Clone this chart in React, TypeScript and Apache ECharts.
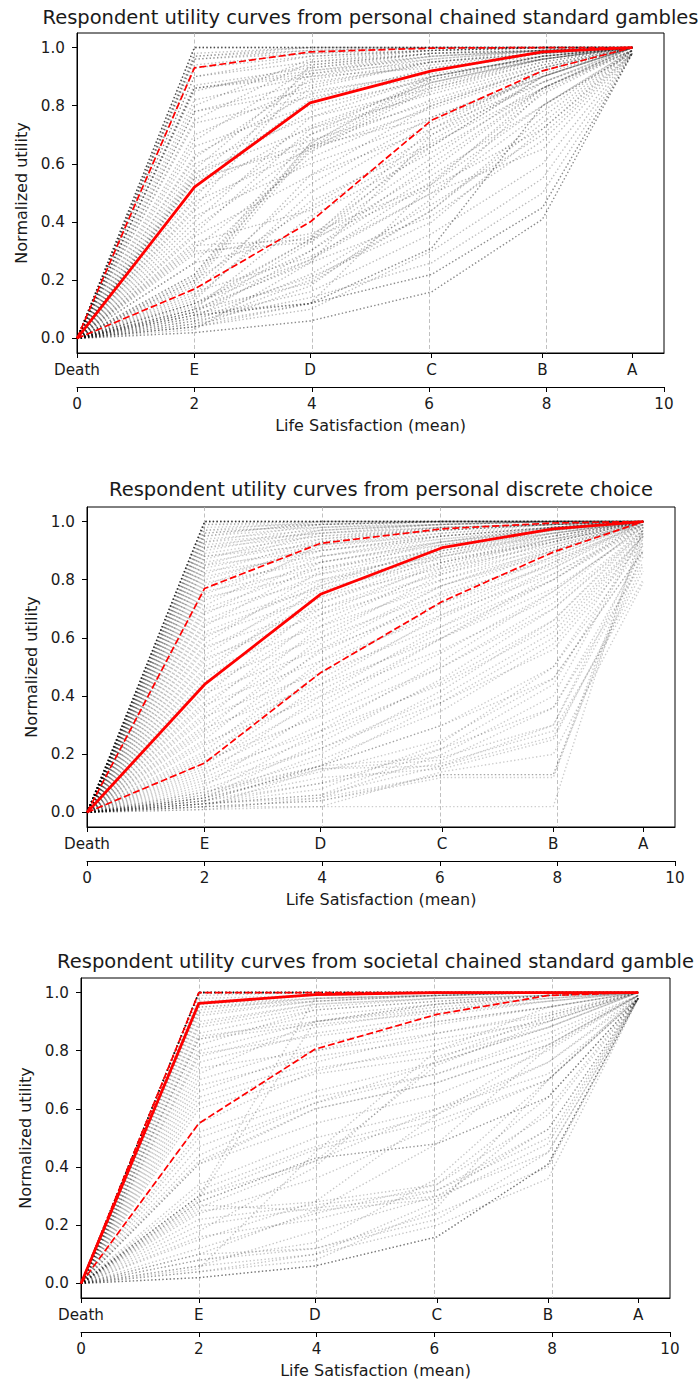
import React, { useEffect, useRef } from "react";
import * as echarts from "echarts";

// ---------- data ----------
const stateLabels = ["Death", "E", "D", "C", "B", "A"];
// mean life satisfaction of each state (x position of the state)
const statePositions = [0, 2.0, 3.97, 6.04, 7.93, 9.46];
const utilityTicks = [0, 0.2, 0.4, 0.6, 0.8, 1.0];

const panelTitles = [
  "Respondent utility curves from personal chained standard gambles",
  "Respondent utility curves from personal discrete choice",
  "Respondent utility curves from societal chained standard gamble",
];

// respondent utilities at [E, D, C, B, A]; Death is always 0
const personalCsgCurves = [
  [1.0, 1.0, 1.0, 1.0, 1.0], [1.0, 1.0, 1.0, 1.0, 1.0], [1.0, 1.0, 1.0, 1.0, 1.0],
  [1.0, 1.0, 1.0, 1.0, 1.0], [0.97, 0.99, 1.0, 1.0, 1.0], [0.96, 0.99, 1.0, 1.0, 1.0],
  [0.96, 0.98, 0.99, 1.0, 1.0], [0.93, 0.97, 0.99, 1.0, 1.0], [0.9, 0.95, 0.98, 0.99, 1.0],
  [0.87, 0.93, 0.97, 0.99, 1.0], [0.86, 0.91, 0.95, 0.98, 1.0], [0.86, 0.9, 0.93, 0.97, 1.0],
  [0.82, 0.9, 0.96, 0.99, 1.0], [0.78, 0.88, 0.94, 0.98, 1.0], [0.78, 0.85, 0.91, 0.96, 1.0],
  [0.74, 0.83, 0.9, 0.97, 1.0], [0.7, 0.87, 0.95, 0.98, 1.0], [0.66, 0.8, 0.89, 0.96, 1.0],
  [0.63, 0.84, 0.92, 0.98, 1.0], [0.6, 0.76, 0.86, 0.95, 1.0], [0.57, 0.72, 0.84, 0.94, 1.0],
  [0.55, 0.78, 0.9, 0.97, 1.0], [0.54, 0.68, 0.81, 0.93, 1.0], [0.5, 0.73, 0.88, 0.96, 1.0],
  [0.47, 0.65, 0.79, 0.92, 1.0], [0.44, 0.7, 0.85, 0.95, 1.0], [0.42, 0.6, 0.75, 0.9, 1.0],
  [0.38, 0.66, 0.82, 0.94, 1.0], [0.35, 0.56, 0.72, 0.88, 1.0], [0.33, 0.44, 0.66, 0.9, 1.0],
  [0.31, 0.62, 0.8, 0.93, 1.0], [0.29, 0.36, 0.53, 0.8, 0.99], [0.26, 0.64, 0.86, 0.96, 1.0],
  [0.22, 0.67, 0.89, 0.97, 1.0], [0.21, 0.66, 0.88, 0.96, 1.0], [0.2, 0.45, 0.7, 0.88, 0.99],
  [0.18, 0.53, 0.76, 0.91, 1.0], [0.16, 0.28, 0.5, 0.78, 0.99], [0.14, 0.47, 0.67, 0.86, 1.0],
  [0.12, 0.3, 0.6, 0.86, 0.99], [0.12, 0.27, 0.54, 0.84, 0.99], [0.11, 0.34, 0.72, 0.92, 1.0],
  [0.1, 0.19, 0.44, 0.76, 0.99], [0.09, 0.27, 0.5, 0.65, 0.98], [0.09, 0.12, 0.31, 0.8, 0.98],
  [0.08, 0.21, 0.4, 0.72, 0.98], [0.08, 0.12, 0.53, 0.86, 0.99], [0.07, 0.16, 0.36, 0.6, 0.98],
  [0.06, 0.22, 0.46, 0.7, 0.98], [0.05, 0.12, 0.22, 0.45, 0.98], [0.04, 0.1, 0.3, 0.55, 0.98],
  [0.04, 0.18, 0.48, 0.85, 0.99], [0.02, 0.06, 0.16, 0.41, 0.98], [0.02, 0.06, 0.16, 0.41, 0.98],
  [0.03, 0.26, 0.7, 0.92, 1.0], [0.09, 0.33, 0.68, 0.9, 1.0], [0.2, 0.67, 0.9, 0.97, 1.0],
  [0.08, 0.12, 0.31, 0.8, 0.98], [0.55, 0.66, 0.76, 0.9, 1.0], [0.86, 0.92, 0.96, 0.99, 1.0],
  [0.32, 0.34, 0.62, 0.88, 1.0], [0.3, 0.33, 0.58, 0.86, 1.0], [0.26, 0.35, 0.66, 0.9, 1.0],
  [0.45, 0.91, 0.97, 0.99, 1.0], [0.48, 0.94, 0.98, 1.0, 1.0], [0.58, 0.92, 0.97, 0.99, 1.0],
  [0.62, 0.89, 0.95, 0.98, 1.0], [0.68, 0.93, 0.98, 0.99, 1.0], [0.75, 0.95, 0.99, 1.0, 1.0],
  [0.8, 0.96, 0.99, 1.0, 1.0], [0.85, 0.94, 0.98, 0.99, 1.0], [0.9, 0.97, 0.99, 1.0, 1.0],
  [0.94, 0.98, 1.0, 1.0, 1.0], [0.97, 1.0, 1.0, 1.0, 1.0], [0.98, 1.0, 1.0, 1.0, 1.0],
  [0.19, 0.65, 0.87, 0.96, 1.0], [0.22, 0.7, 0.9, 0.97, 1.0], [0.15, 0.56, 0.8, 0.93, 1.0],
  [0.13, 0.5, 0.74, 0.9, 1.0], [0.1, 0.42, 0.64, 0.86, 1.0], [0.07, 0.3, 0.56, 0.8, 0.99],
  [0.05, 0.2, 0.44, 0.74, 0.99], [0.06, 0.14, 0.26, 0.5, 0.98], [0.04, 0.12, 0.22, 0.45, 0.98],
  [0.36, 0.72, 0.88, 0.96, 1.0], [0.4, 0.76, 0.9, 0.97, 1.0], [0.52, 0.82, 0.93, 0.98, 1.0],
  [0.56, 0.86, 0.95, 0.99, 1.0], [0.12, 0.34, 0.52, 0.72, 0.99], [0.1, 0.26, 0.42, 0.68, 0.98],
];
const personalCsgMedian = [0, 0.52, 0.81, 0.92, 0.985, 1.0];
const personalCsgUpper = [0, 0.93, 0.985, 0.998, 1.0, 1.0];
const personalCsgLower = [0, 0.17, 0.4, 0.75, 0.92, 1.0];

const personalDceCurves = [
  [1.0, 1.0, 1.0, 1.0, 1.0], [1.0, 1.0, 1.0, 1.0, 1.0], [1.0, 1.0, 1.0, 1.0, 1.0],
  [1.0, 1.0, 1.0, 1.0, 1.0], [1.0, 1.0, 1.0, 1.0, 1.0], [0.99, 1.0, 1.0, 1.0, 1.0],
  [0.98, 0.99, 1.0, 1.0, 1.0], [0.97, 1.0, 1.0, 1.0, 1.0], [0.96, 0.99, 1.0, 1.0, 1.0],
  [0.95, 0.98, 0.99, 1.0, 1.0], [0.94, 0.97, 0.99, 1.0, 1.0], [0.93, 0.99, 1.0, 1.0, 1.0],
  [0.92, 0.96, 0.98, 0.99, 1.0], [0.9, 0.97, 0.99, 1.0, 1.0], [0.89, 0.95, 0.98, 0.99, 1.0],
  [0.88, 0.94, 0.97, 0.99, 1.0], [0.86, 0.93, 0.97, 0.99, 1.0], [0.85, 0.96, 0.99, 1.0, 1.0],
  [0.84, 0.92, 0.96, 0.98, 1.0], [0.82, 0.94, 0.98, 0.99, 1.0], [0.81, 0.9, 0.95, 0.98, 1.0],
  [0.8, 0.91, 0.96, 0.99, 1.0], [0.78, 0.93, 0.98, 0.99, 1.0], [0.77, 0.88, 0.94, 0.98, 1.0],
  [0.75, 0.9, 0.95, 0.98, 1.0], [0.73, 0.86, 0.93, 0.97, 1.0], [0.71, 0.92, 0.97, 0.99, 1.0],
  [0.7, 0.84, 0.92, 0.97, 1.0], [0.68, 0.88, 0.95, 0.98, 1.0], [0.66, 0.82, 0.91, 0.96, 1.0],
  [0.64, 0.86, 0.93, 0.98, 1.0], [0.62, 0.78, 0.89, 0.95, 1.0], [0.6, 0.8, 0.9, 0.96, 1.0],
  [0.58, 0.83, 0.93, 0.98, 1.0], [0.56, 0.76, 0.88, 0.95, 1.0], [0.54, 0.79, 0.91, 0.97, 1.0],
  [0.52, 0.72, 0.86, 0.94, 1.0], [0.5, 0.74, 0.89, 0.96, 1.0], [0.48, 0.78, 0.92, 0.98, 1.0],
  [0.46, 0.7, 0.85, 0.94, 1.0], [0.44, 0.75, 0.9, 0.97, 1.0], [0.42, 0.66, 0.83, 0.93, 1.0],
  [0.4, 0.72, 0.88, 0.96, 1.0], [0.38, 0.62, 0.8, 0.92, 1.0], [0.36, 0.68, 0.86, 0.95, 1.0],
  [0.34, 0.58, 0.78, 0.9, 1.0], [0.32, 0.64, 0.84, 0.94, 1.0], [0.3, 0.55, 0.74, 0.88, 1.0],
  [0.28, 0.6, 0.82, 0.93, 1.0], [0.27, 0.5, 0.7, 0.86, 0.99], [0.25, 0.56, 0.78, 0.91, 1.0],
  [0.23, 0.46, 0.67, 0.84, 0.99], [0.21, 0.52, 0.76, 0.9, 1.0], [0.2, 0.42, 0.62, 0.8, 0.98],
  [0.19, 0.48, 0.72, 0.88, 1.0], [0.17, 0.38, 0.6, 0.8, 0.99], [0.16, 0.44, 0.68, 0.86, 1.0],
  [0.15, 0.34, 0.55, 0.76, 0.98], [0.13, 0.4, 0.64, 0.84, 1.0], [0.12, 0.3, 0.5, 0.72, 0.97],
  [0.11, 0.26, 0.45, 0.66, 0.96], [0.09, 0.36, 0.6, 0.82, 0.99], [0.08, 0.22, 0.4, 0.62, 0.95],
  [0.07, 0.18, 0.35, 0.58, 0.94], [0.06, 0.28, 0.52, 0.76, 0.98], [0.06, 0.16, 0.3, 0.5, 0.92],
  [0.05, 0.14, 0.25, 0.46, 0.9], [0.05, 0.24, 0.46, 0.7, 0.97], [0.04, 0.16, 0.19, 0.3, 0.88],
  [0.04, 0.12, 0.15, 0.25, 0.85], [0.03, 0.05, 0.13, 0.13, 0.95], [0.03, 0.1, 0.17, 0.28, 0.8],
  [0.02, 0.02, 0.02, 0.02, 0.98], [0.02, 0.04, 0.12, 0.12, 0.93], [0.02, 0.15, 0.18, 0.36, 0.9],
  [0.01, 0.02, 0.14, 0.2, 0.79], [0.01, 0.05, 0.2, 0.4, 0.96], [0.03, 0.08, 0.24, 0.5, 0.97],
  [0.04, 0.16, 0.38, 0.6, 0.95], [0.03, 0.06, 0.22, 0.44, 0.96], [0.05, 0.2, 0.42, 0.66, 0.97],
  [0.96, 0.99, 1.0, 1.0, 1.0], [0.91, 0.98, 1.0, 1.0, 1.0], [0.87, 0.97, 0.99, 1.0, 1.0],
  [1.0, 1.0, 1.0, 1.0, 1.0], [1.0, 1.0, 1.0, 1.0, 1.0], [0.99, 0.99, 1.0, 1.0, 1.0],
  [0.97, 0.98, 0.99, 1.0, 1.0], [0.95, 1.0, 1.0, 1.0, 1.0], [0.93, 0.96, 0.98, 0.99, 1.0],
  [0.91, 0.95, 0.97, 0.99, 1.0], [0.88, 0.92, 0.95, 0.98, 1.0], [0.85, 0.9, 0.94, 0.97, 0.99],
  [0.83, 0.88, 0.93, 0.97, 1.0], [0.79, 0.86, 0.92, 0.96, 1.0], [0.76, 0.84, 0.9, 0.95, 1.0],
  [0.74, 0.82, 0.88, 0.94, 0.98], [0.69, 0.8, 0.87, 0.93, 1.0], [0.65, 0.77, 0.86, 0.93, 1.0],
  [0.61, 0.74, 0.84, 0.92, 0.99], [0.57, 0.7, 0.82, 0.91, 1.0], [0.53, 0.68, 0.8, 0.9, 1.0],
  [0.49, 0.64, 0.78, 0.89, 1.0], [0.45, 0.6, 0.75, 0.87, 0.99], [0.41, 0.56, 0.72, 0.85, 1.0],
  [0.37, 0.52, 0.68, 0.82, 0.98], [0.33, 0.48, 0.64, 0.8, 1.0], [0.29, 0.44, 0.6, 0.77, 0.97],
  [0.24, 0.4, 0.56, 0.74, 0.99], [0.18, 0.33, 0.5, 0.7, 0.96], [0.14, 0.28, 0.44, 0.64, 0.95],
  [0.1, 0.22, 0.38, 0.56, 0.93], [0.07, 0.16, 0.3, 0.46, 0.9], [0.04, 0.1, 0.22, 0.36, 0.86],
  [0.03, 0.06, 0.16, 0.26, 0.83], [0.02, 0.04, 0.13, 0.13, 0.9], [0.05, 0.15, 0.16, 0.3, 0.92],
];
const personalDceMedian = [0, 0.44, 0.75, 0.91, 0.975, 1.0];
const personalDceUpper = [0, 0.77, 0.925, 0.975, 0.995, 1.0];
const personalDceLower = [0, 0.17, 0.48, 0.725, 0.895, 1.0];

const societalCsgCurves = [
  [1.0, 1.0, 1.0, 1.0, 1.0], [1.0, 1.0, 1.0, 1.0, 1.0], [1.0, 1.0, 1.0, 1.0, 1.0],
  [1.0, 1.0, 1.0, 1.0, 1.0], [1.0, 1.0, 1.0, 1.0, 1.0], [1.0, 1.0, 1.0, 1.0, 1.0],
  [1.0, 1.0, 1.0, 1.0, 1.0], [1.0, 1.0, 1.0, 1.0, 1.0], [1.0, 1.0, 1.0, 1.0, 1.0],
  [1.0, 1.0, 1.0, 1.0, 1.0], [1.0, 1.0, 1.0, 1.0, 1.0], [1.0, 1.0, 1.0, 1.0, 1.0],
  [0.99, 1.0, 1.0, 1.0, 1.0], [0.98, 0.99, 1.0, 1.0, 1.0], [0.97, 0.99, 1.0, 1.0, 1.0],
  [0.96, 0.99, 1.0, 1.0, 1.0], [0.96, 0.98, 0.99, 1.0, 1.0], [0.95, 0.98, 0.99, 1.0, 1.0],
  [0.95, 0.97, 0.99, 1.0, 1.0], [0.94, 0.98, 0.99, 1.0, 1.0], [0.92, 0.97, 0.99, 1.0, 1.0],
  [0.9, 0.96, 0.98, 0.99, 1.0], [0.88, 0.95, 0.98, 0.99, 1.0], [0.86, 0.94, 0.97, 0.99, 1.0],
  [0.84, 0.92, 0.96, 0.98, 1.0], [0.84, 0.89, 0.93, 0.97, 1.0], [0.8, 0.9, 0.95, 0.98, 1.0],
  [0.78, 0.88, 0.94, 0.98, 1.0], [0.76, 0.86, 0.92, 0.97, 1.0], [0.72, 0.9, 0.96, 0.99, 1.0],
  [0.7, 0.82, 0.9, 0.95, 1.0], [0.66, 0.8, 0.89, 0.95, 1.0], [0.64, 0.76, 0.86, 0.93, 1.0],
  [0.62, 0.74, 0.8, 0.9, 1.0], [0.55, 0.73, 0.82, 0.91, 1.0], [0.52, 0.66, 0.76, 0.88, 1.0],
  [0.47, 0.62, 0.72, 0.86, 0.99], [0.42, 0.6, 0.69, 0.82, 0.99], [0.41, 0.55, 0.65, 0.8, 0.99],
  [0.34, 0.5, 0.6, 0.72, 0.98], [0.3, 0.98, 0.99, 1.0, 1.0], [0.3, 0.46, 0.56, 0.7, 0.98],
  [0.29, 0.9, 0.96, 0.99, 1.0], [0.28, 0.43, 0.48, 0.64, 0.98], [0.26, 0.42, 0.75, 0.9, 1.0],
  [0.24, 0.36, 0.54, 0.7, 0.98], [0.22, 0.27, 0.32, 0.53, 0.98], [0.2, 0.26, 0.3, 0.45, 0.98],
  [0.18, 0.4, 0.77, 0.92, 1.0], [0.15, 0.28, 0.58, 0.82, 0.99], [0.12, 0.24, 0.34, 0.64, 0.98],
  [0.1, 0.25, 0.48, 0.81, 0.99], [0.08, 0.12, 0.22, 0.45, 0.98], [0.08, 0.14, 0.36, 0.7, 0.98],
  [0.06, 0.18, 0.3, 0.53, 0.98], [0.04, 0.1, 0.28, 0.6, 0.98], [0.02, 0.06, 0.16, 0.41, 0.98],
  [0.02, 0.06, 0.16, 0.41, 0.98], [0.02, 0.06, 0.16, 0.41, 0.98], [0.05, 0.45, 0.8, 0.95, 1.0],
  [0.41, 0.6, 0.69, 0.82, 0.99], [0.28, 0.43, 0.48, 0.64, 0.98],
  [0.93, 0.97, 0.99, 1.0, 1.0], [0.89, 0.96, 0.98, 0.99, 1.0], [0.85, 0.9, 0.94, 0.97, 1.0],
  [0.82, 0.94, 0.97, 0.99, 1.0], [0.79, 0.85, 0.9, 0.95, 1.0], [0.74, 0.8, 0.86, 0.92, 1.0],
  [0.68, 0.78, 0.84, 0.9, 1.0], [0.6, 0.72, 0.78, 0.88, 1.0], [0.5, 0.64, 0.72, 0.84, 0.99],
  [0.32, 0.47, 0.58, 0.76, 0.98], [0.27, 0.25, 0.29, 0.48, 0.98], [0.25, 0.28, 0.34, 0.58, 0.98],
  [0.16, 0.22, 0.32, 0.5, 0.98], [0.1, 0.12, 0.24, 0.4, 0.98], [0.06, 0.1, 0.2, 0.36, 0.98],
  [0.04, 0.08, 0.26, 0.7, 0.99], [0.3, 0.42, 0.6, 0.76, 0.99], [0.44, 0.62, 0.76, 0.88, 1.0],
];
const societalCsgMedian = [0, 0.963, 0.993, 1.0, 1.0, 1.0];
const societalCsgUpper = [0, 1.0, 1.0, 1.0, 1.0, 1.0];
const societalCsgLower = [0, 0.55, 0.805, 0.925, 0.99, 1.0];

// ---------- layout / style ----------
const FONT = "DejaVu Sans";
const TEXT = "#1a1a1a";
const TICK_SIZE = 15.2;
const NAME_SIZE = 16;
const TITLE_SIZE = 19.5;
const panels = [
  { left: 77, top: 33, width: 587, height: 320, titleTop: 7, curves: personalCsgCurves, median: personalCsgMedian, upper: personalCsgUpper, lower: personalCsgLower, alpha: 0.26 },
  { left: 87, top: 507, width: 588, height: 320, titleTop: 479, curves: personalDceCurves, median: personalDceMedian, upper: personalDceUpper, lower: personalDceLower, alpha: 0.2 },
  { left: 81, top: 978, width: 589, height: 320, titleTop: 951, curves: societalCsgCurves, median: societalCsgMedian, upper: societalCsgUpper, lower: societalCsgLower, alpha: 0.22 },
];

function stateLabelFor(v: number) {
  let best = 0;
  statePositions.forEach((p, i) => {
    if (Math.abs(p - v) < Math.abs(statePositions[best] - v)) best = i;
  });
  return stateLabels[best];
}

function toPoints(values: number[]) {
  return statePositions.map((x, i) => [x, values[i]]);
}

function buildOption() {
  const grid: any[] = [];
  const xAxis: any[] = [];
  const yAxis: any[] = [];
  const title: any[] = [];
  const series: any[] = [];
  const tickStyle = { fontFamily: FONT, fontSize: TICK_SIZE, color: TEXT };
  const nameStyle = { fontFamily: FONT, fontSize: NAME_SIZE, color: TEXT };

  panels.forEach((p, idx) => {
    grid.push({
      left: p.left, top: p.top, width: p.width, height: p.height,
      show: true, borderColor: "#000", borderWidth: 1, backgroundColor: "transparent",
    });
    title.push({
      text: panelTitles[idx],
      left: p.left + p.width / 2,
      top: p.titleTop,
      textAlign: "center",
      padding: 0,
      textStyle: { fontFamily: FONT, fontSize: TITLE_SIZE, fontWeight: "normal", color: TEXT },
    });
    // state axis (Death ... A)
    xAxis.push({
      type: "value", gridIndex: idx, min: 0, max: 10, position: "bottom",
      axisLine: { show: true, onZero: false, lineStyle: { color: "#000", width: 1 } },
      axisTick: { show: true, customValues: statePositions, length: 5, lineStyle: { color: "#000" } },
      axisLabel: { show: true, customValues: statePositions, formatter: (v: number) => stateLabelFor(v), margin: 9, ...tickStyle },
      splitLine: { show: false },
    });
    // life satisfaction axis (0 ... 10), offset below
    xAxis.push({
      type: "value", gridIndex: idx, min: 0, max: 10, interval: 2, position: "bottom", offset: 34,
      axisLine: { show: true, onZero: false, lineStyle: { color: "#000", width: 1 } },
      axisTick: { show: true, length: 5, lineStyle: { color: "#000" } },
      axisLabel: { show: true, margin: 9, ...tickStyle },
      splitLine: { show: true, showMinLine: false, showMaxLine: false, lineStyle: { color: "#b0b0b0", width: 0.8, type: [4, 2.5] } },
      name: "Life Satisfaction (mean)", nameLocation: "middle", nameGap: 30,
      nameTextStyle: { ...nameStyle },
    });
    yAxis.push({
      type: "value", gridIndex: idx, min: -0.05, max: 1.05,
      axisLine: { show: true, onZero: false, lineStyle: { color: "#000", width: 1 } },
      axisTick: { show: true, customValues: utilityTicks, length: 5, lineStyle: { color: "#000" } },
      axisLabel: { show: true, customValues: utilityTicks, formatter: (v: number) => v.toFixed(1), margin: 12, ...tickStyle },
      splitLine: { show: false },
      name: "Normalized utility", nameLocation: "middle", nameGap: 46, nameRotate: 90,
      nameTextStyle: { ...nameStyle },
    });

    p.curves.forEach((row: number[]) => {
      series.push({
        type: "line", xAxisIndex: idx * 2, yAxisIndex: idx, data: toPoints([0, ...row]),
        symbol: "none", silent: true, z: 2,
        lineStyle: { color: `rgba(0,0,0,${p.alpha})`, width: 1.4, type: [1.4, 2.3] },
      });
    });
    series.push({
      type: "line", xAxisIndex: idx * 2, yAxisIndex: idx, data: toPoints(p.upper),
      symbol: "none", silent: true, z: 4,
      lineStyle: { color: "#ff0000", width: 1.7, type: [7, 3] },
    });
    series.push({
      type: "line", xAxisIndex: idx * 2, yAxisIndex: idx, data: toPoints(p.lower),
      symbol: "none", silent: true, z: 4,
      lineStyle: { color: "#ff0000", width: 1.7, type: [7, 3] },
    });
    series.push({
      type: "line", xAxisIndex: idx * 2, yAxisIndex: idx, data: toPoints(p.median),
      symbol: "none", silent: true, z: 5,
      lineStyle: { color: "#ff0000", width: 2.8, type: "solid" },
    });
  });

  return { animation: false, backgroundColor: "#fff", title, grid, xAxis, yAxis, series };
}

export default function App() {
  const ref = useRef<HTMLDivElement>(null);
  useEffect(() => {
    if (!ref.current) return;
    const chart = echarts.init(ref.current, undefined, { renderer: "svg" });
    chart.setOption(buildOption() as any);
    return () => chart.dispose();
  }, []);
  return (
    <div
      ref={ref}
      style={{ position: "absolute", left: 0, top: 0, width: 698, height: 1383, background: "#fff" }}
    />
  );
}
